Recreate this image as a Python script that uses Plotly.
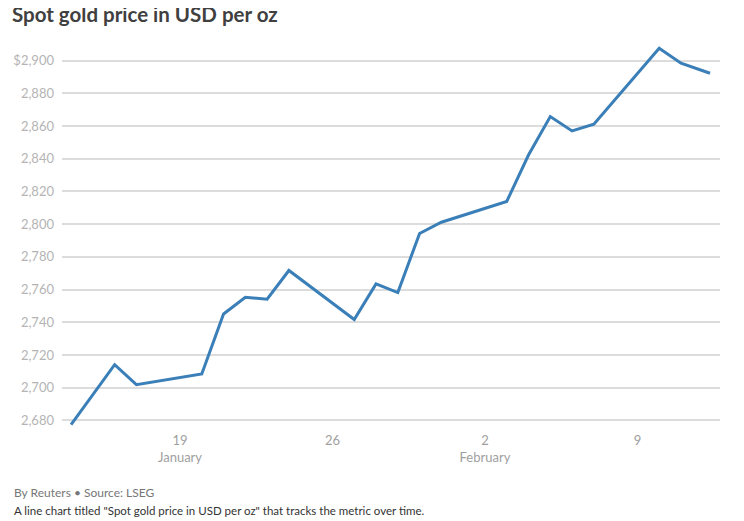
import plotly.graph_objects as go

# spot gold, daily (USD per oz)
dates = [
    "2025-01-14", "2025-01-16", "2025-01-17", "2025-01-20", "2025-01-21",
    "2025-01-22", "2025-01-23", "2025-01-24", "2025-01-27", "2025-01-28",
    "2025-01-29", "2025-01-30", "2025-01-31", "2025-02-03", "2025-02-04",
    "2025-02-05", "2025-02-06", "2025-02-07", "2025-02-10", "2025-02-11",
    "2025-02-12 08:00",
]
prices = [
    2677.4, 2714.1, 2701.9, 2708.4, 2745.1,
    2755.3, 2754.1, 2771.7, 2741.7, 2763.5,
    2758.2, 2794.3, 2801.2, 2813.9, 2842.3,
    2865.8, 2857.0, 2861.1, 2907.6, 2898.4,
    2892.3,
]

y_ticks = [2680, 2700, 2720, 2740, 2760, 2780, 2800, 2820, 2840, 2860, 2880, 2900]
y_labels = [f"{v:,}" for v in y_ticks]
y_labels[-1] = "$" + y_labels[-1]

x_ticks = ["2025-01-19", "2025-01-26", "2025-02-02", "2025-02-09"]
x_labels = ["19<br>January", "26", "2<br>February", "9"]

FONT = "Lato"
# the page body has an 8px margin, so the figure is drawn 8px in from the corner
OFF = 8
W, H = 744 - OFF, 521 - OFF
L, R, T, B = 62 - OFF, 24, 41 - OFF, 94
pw, ph = W - L - R, H - T - B

fig = go.Figure()
fig.add_trace(go.Scatter(
    x=dates, y=prices, mode="lines",
    line=dict(color="#3a7fb8", width=3),
    hoverinfo="x+y",
))

fig.update_layout(
    width=W, height=H,
    margin=dict(l=L, r=R, t=T, b=B, autoexpand=False),
    plot_bgcolor="white", paper_bgcolor="white",
    showlegend=False,
    font=dict(family=FONT, color="#333"),
    title=dict(
        text="<b>Spot gold price in USD per oz</b>",
        font=dict(family=FONT, size=20.5, color="#404040"),
        xref="container", yref="container",
        x=(12 - OFF) / W, xanchor="left",
        y=1 - (15 - OFF) / H, yanchor="middle",
    ),
)

fig.update_yaxes(
    range=[2676, 2912],
    tickvals=y_ticks, ticktext=y_labels,
    showgrid=True, gridcolor="#dcdcdc", gridwidth=1.5,
    zeroline=False, showline=False,
    tickfont=dict(size=13, color="#b4b4b4"),
    ticklabelstandoff=7,
)
fig.update_xaxes(
    range=["2025-01-13 14:00", "2025-02-12 19:00"],
    tickvals=x_ticks, ticktext=x_labels,
    showgrid=False, zeroline=False, showline=False,
    tickfont=dict(size=13, color="#a0a0a0"),
    ticklabelstandoff=4,
)

# footer lines, positions given in page pixels
def py(pix):
    return (H - B - (pix - OFF)) / ph

fx = (12 - 62) / pw
fig.add_annotation(
    text="By Reuters \u2022 Source: LSEG",
    xref="paper", yref="paper", x=fx, y=py(492),
    xanchor="left", yanchor="middle", showarrow=False,
    font=dict(family=FONT, size=12, color="#777"),
)
fig.add_annotation(
    text='A line chart titled "Spot gold price in USD per oz" that tracks the metric over time.',
    xref="paper", yref="paper", x=fx, y=py(511),
    xanchor="left", yanchor="middle", showarrow=False,
    font=dict(family=FONT, size=11.5, color="#333"),
)

fig.write_html("out.html")
